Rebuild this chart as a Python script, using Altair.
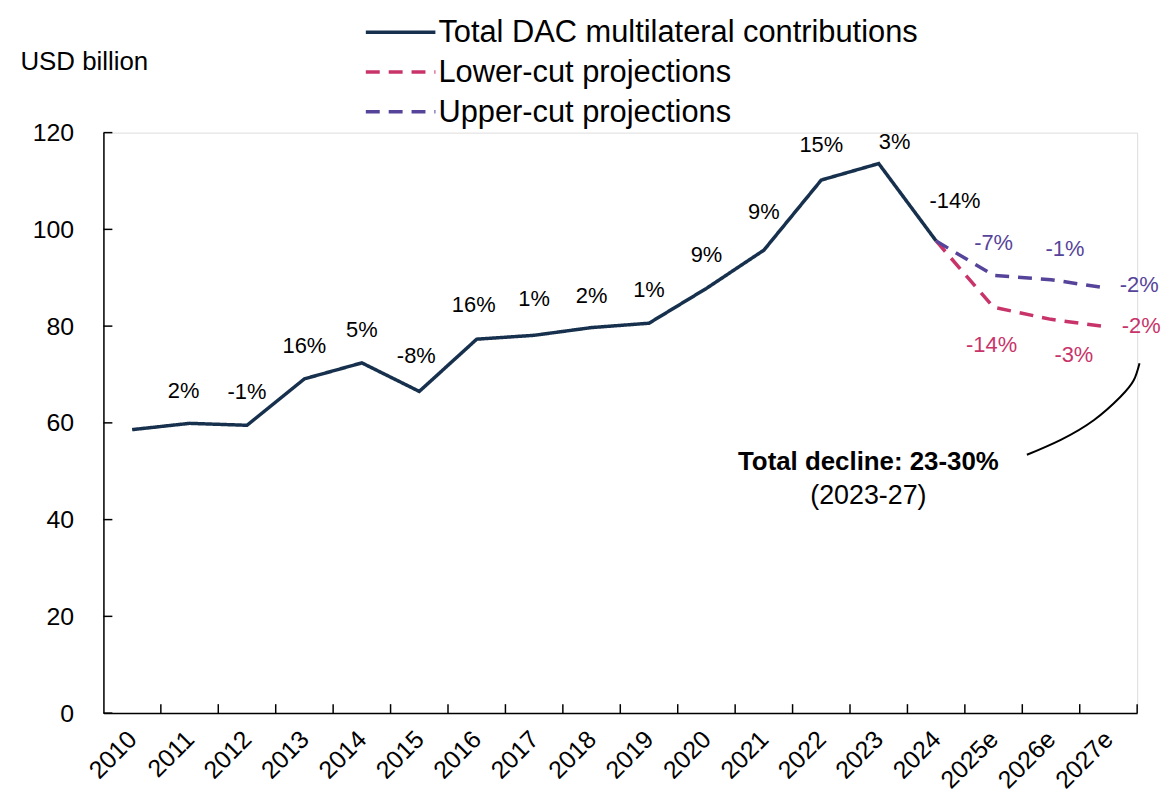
import altair as alt
import pandas as pd

# ---------------- data ----------------
years = ["2010", "2011", "2012", "2013", "2014", "2015", "2016", "2017", "2018",
         "2019", "2020", "2021", "2022", "2023", "2024", "2025e", "2026e", "2027e"]

total_years = years[:15]
total_vals = [58.6, 59.9, 59.5, 69.1, 72.4, 66.5, 77.3, 78.1, 79.7,
              80.6, 87.8, 95.7, 110.2, 113.6, 97.6]
total_labels = ["", "2%", "-1%", "16%", "5%", "-8%", "16%", "1%", "2%",
                "1%", "9%", "9%", "15%", "3%", "-14%"]

proj_years = ["2024", "2025e", "2026e", "2027e"]
lower_vals = [97.6, 83.9, 81.4, 79.8]
upper_vals = [97.6, 90.5, 89.6, 87.8]
lower_labels = ["", "-14%", "-3%", "-2%"]
upper_labels = ["", "-7%", "-1%", "-2%"]

series_names = ["Total DAC multilateral contributions", "Lower-cut projections", "Upper-cut projections"]
series_colors = ["#16304d", "#c8346a", "#56449a"]
series_dash = [[1, 0], [14, 9], [14, 9]]

# label offsets (px) relative to their point
total_dx = [0, -6, 0, 0, 0, -3, -3, 0, 0, 0, 0, 0, 0, 16, 19]
total_dy = [0, -33, -33, -33, -33, -36, -34, -36, -32, -33, -34, -38, -35, -22, -40]
lower_dx = [0, -2, 23, 33]
lower_dy = [0, 38, 36, -1]
upper_dx = [0, 0, 14, 31]
upper_dy = [0, -32, -31, -3]

y_ticks = [0, 20, 40, 60, 80, 100, 120]

# annotation connector (in axis units)
curve_x = [16.08, 16.67, 17.25, 17.71, 17.94, 18.04]
curve_y = [53.4, 56.5, 60.6, 65.4, 68.8, 72.3]
note_main = "Total decline: 23-30%"
note_sub = "(2023-27)"
note_x = 13.32
note_main_y = 52.0
note_sub_y = 44.8

FONT = "Liberation Sans, Arial, Helvetica"

def pos(y):
    return years.index(y) + 0.5

rows = []
for y, v in zip(total_years, total_vals):
    rows.append({"series": series_names[0], "pos": pos(y), "value": v})
for y, v in zip(proj_years, lower_vals):
    rows.append({"series": series_names[1], "pos": pos(y), "value": v})
for y, v in zip(proj_years, upper_vals):
    rows.append({"series": series_names[2], "pos": pos(y), "value": v})
df = pd.DataFrame(rows)

W, H = 1040, 584
xscale = alt.Scale(domain=[0, 18], nice=False, zero=False)
yscale = alt.Scale(domain=[0, 120], nice=False)

label_expr = "[" + ",".join("'%s'" % y for y in years) + "][floor(datum.value)]"

lines = alt.Chart(df).mark_line(strokeWidth=3.5).encode(
    x=alt.X("pos:Q", scale=xscale,
            axis=alt.Axis(values=[i + 0.5 for i in range(18)], labelExpr=label_expr,
                          title=None, ticks=False, grid=False, labelAngle=-45,
                          labelAlign="right", labelBaseline="middle", labelOverlap=False,
                          labelFontSize=25, labelFont=FONT, labelColor="black",
                          labelPadding=22, domainColor="black", domainWidth=1.5)),
    y=alt.Y("value:Q", scale=yscale,
            axis=alt.Axis(values=y_ticks, title="USD billion", titleAngle=0,
                          titleAlign="left", titleBaseline="middle", titleX=-84, titleY=-72,
                          titleFontSize=26, titleFont=FONT, titleFontWeight="normal",
                          titleColor="black",
                          ticks=False, grid=False, labelFontSize=25, labelFont=FONT,
                          labelColor="black", labelPadding=30,
                          domainColor="black", domainWidth=1.5)),
    color=alt.Color("series:N", scale=alt.Scale(domain=series_names, range=series_colors),
                    legend=None),
    strokeDash=alt.StrokeDash("series:N",
                              scale=alt.Scale(domain=series_names, range=series_dash),
                              legend=None),
)

layers = [lines]

# legend (drawn as marks above the plot)
for i, name in enumerate(series_names):
    ld = pd.DataFrame({"series": [name]})
    ly = -101 + 40 * i
    layers.append(alt.Chart(ld).mark_rule(strokeWidth=3.5, strokeDash=series_dash[i],
                                          color=series_colors[i]).encode(
        x=alt.value(264), x2=alt.value(334), y=alt.value(ly)))
    layers.append(alt.Chart(ld).mark_text(fontSize=31, font=FONT, color="black",
                                          align="left", baseline="middle").encode(
        x=alt.value(337), y=alt.value(ly + 1), text="series:N"))

def text_layer(y, v, txt, color, dx, dy):
    d = pd.DataFrame({"pos": [pos(y)], "value": [v], "t": [txt]})
    return alt.Chart(d).mark_text(fontSize=22, font=FONT, color=color, dx=dx, dy=dy).encode(
        x=alt.X("pos:Q", scale=xscale), y=alt.Y("value:Q", scale=yscale), text="t:N")

for y, v, t, dx, dy in zip(total_years, total_vals, total_labels, total_dx, total_dy):
    if t:
        layers.append(text_layer(y, v, t, "black", dx, dy))
for y, v, t, dx, dy in zip(proj_years, lower_vals, lower_labels, lower_dx, lower_dy):
    if t:
        layers.append(text_layer(y, v, t, series_colors[1], dx, dy))
for y, v, t, dx, dy in zip(proj_years, upper_vals, upper_labels, upper_dx, upper_dy):
    if t:
        layers.append(text_layer(y, v, t, series_colors[2], dx, dy))

# inward ticks
ytick_df = pd.DataFrame({"value": y_ticks})
layers.append(alt.Chart(ytick_df).mark_rule(color="black", strokeWidth=1.5).encode(
    y=alt.Y("value:Q", scale=yscale), x=alt.value(0), x2=alt.value(9)))
xtick_df = pd.DataFrame({"pos": list(range(1, 19))})
layers.append(alt.Chart(xtick_df).mark_rule(color="black", strokeWidth=1.5).encode(
    x=alt.X("pos:Q", scale=xscale), y=alt.value(H), y2=alt.value(H - 9)))

# annotation
curve_df = pd.DataFrame({"pos": curve_x, "value": curve_y})
layers.append(alt.Chart(curve_df).mark_line(color="black", strokeWidth=2,
                                            interpolate="natural").encode(
    x=alt.X("pos:Q", scale=xscale), y=alt.Y("value:Q", scale=yscale)))
note_df = pd.DataFrame({"pos": [note_x, note_x], "value": [note_main_y, note_sub_y],
                        "t": [note_main, note_sub], "w": ["bold", "normal"]})
layers.append(alt.Chart(note_df).transform_filter("datum.w == 'bold'").mark_text(
    fontSize=26, font=FONT, fontWeight="bold", color="black").encode(
    x=alt.X("pos:Q", scale=xscale), y=alt.Y("value:Q", scale=yscale), text="t:N"))
layers.append(alt.Chart(note_df).transform_filter("datum.w == 'normal'").mark_text(
    fontSize=27, font=FONT, color="black").encode(
    x=alt.X("pos:Q", scale=xscale), y=alt.Y("value:Q", scale=yscale), text="t:N"))

chart = alt.layer(*layers).properties(
    width=W, height=H, autosize="none",
    padding={"left": 96, "top": 123, "right": 26, "bottom": 78},
).configure_view(stroke=None).configure(background="white")

chart.save("out.html", embed_options={"renderer": "svg", "actions": False})
